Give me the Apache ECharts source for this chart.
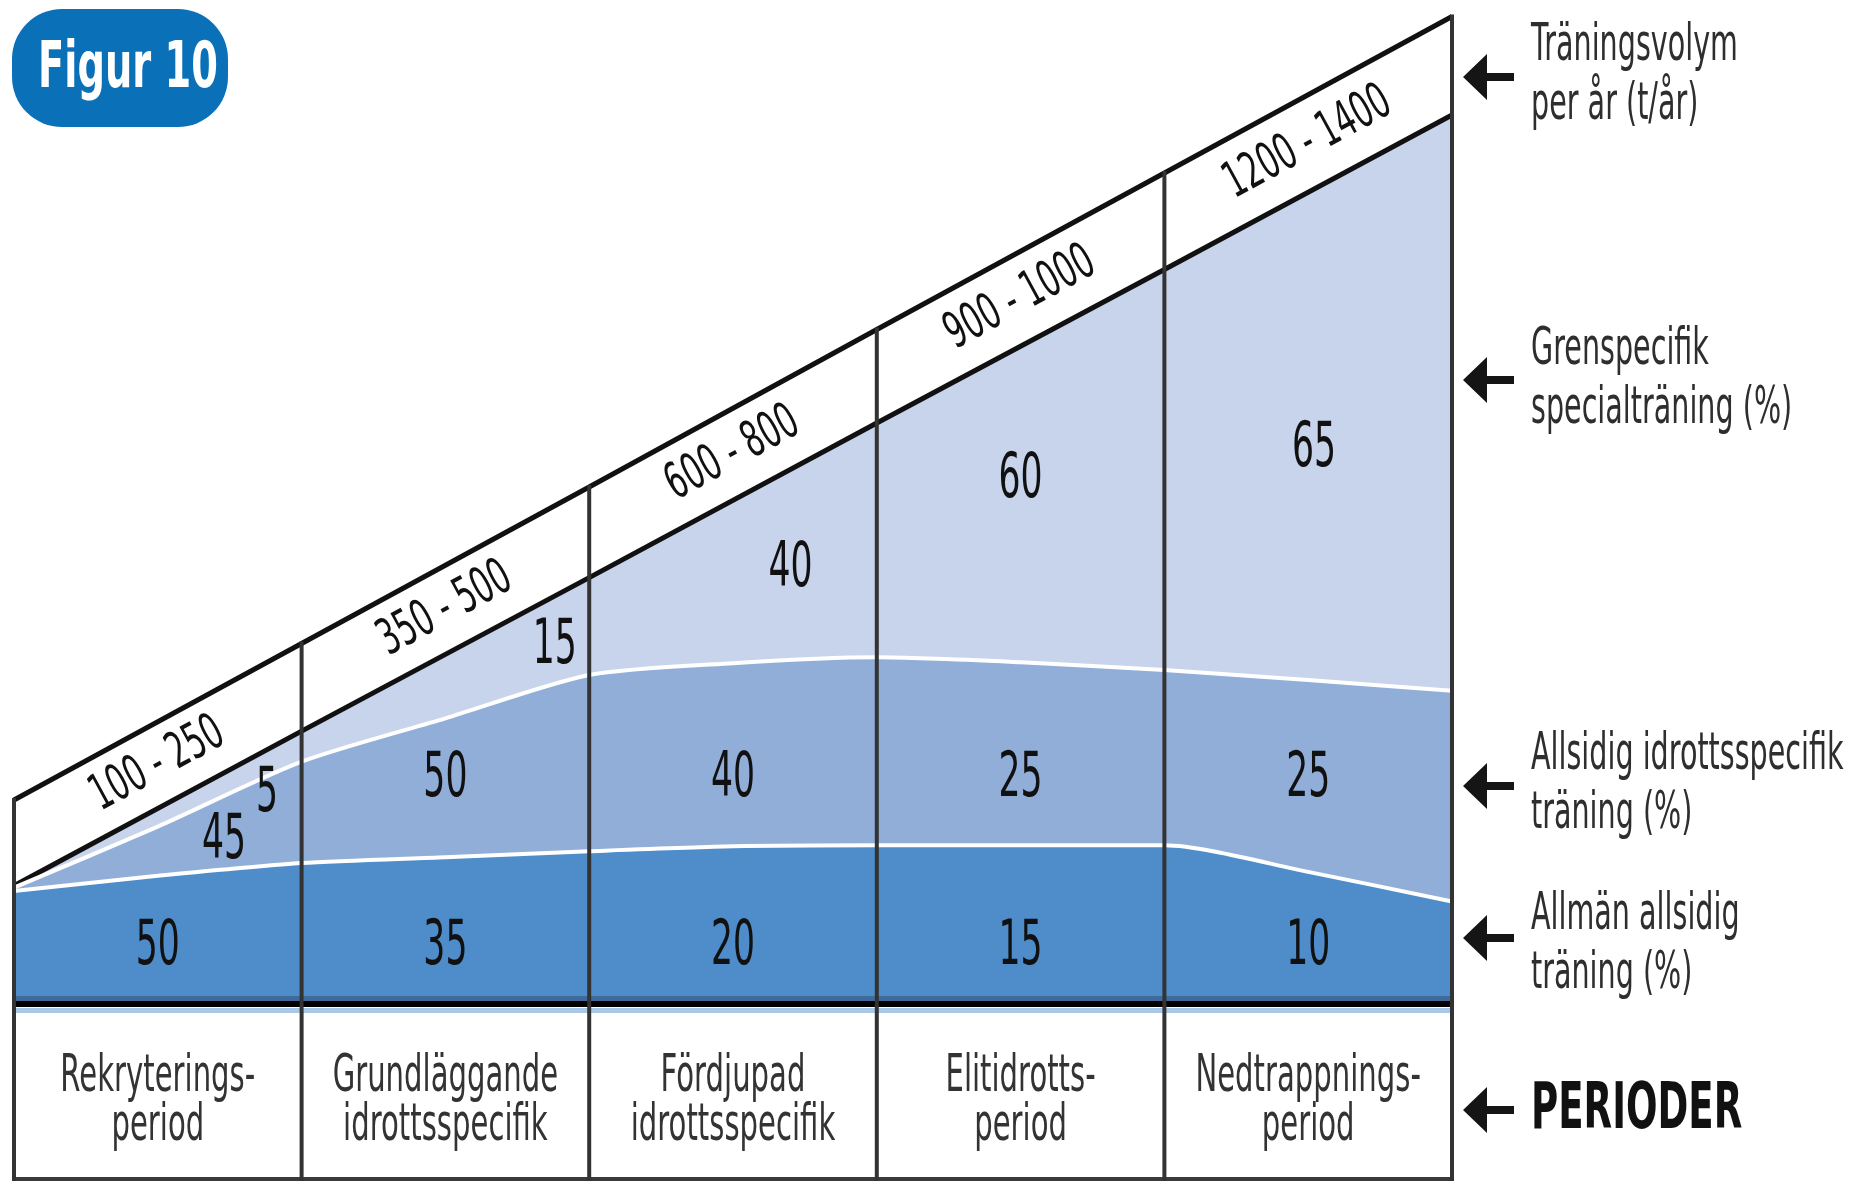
<!DOCTYPE html>
<html>
<head>
<meta charset="utf-8">
<script src="https://cdn.jsdelivr.net/npm/echarts@6/dist/echarts.min.js"></script>
<style>
  html, body { margin: 0; padding: 0; background: #fff; }
  #chart { width: 1851px; height: 1185px; }
</style>
</head>
<body>
<div id="chart"></div>
<script>
// === data: periods and percentages ===
const PERIODS = ['Rekryterings-\nperiod', 'Grundläggande\nidrottsspecifik', 'Fördjupad\nidrottsspecifik', 'Elitidrotts-\nperiod', 'Nedtrappnings-\nperiod'];
const VOLUME = ['100 - 250', '350 - 500', '600 - 800', '900 - 1000', '1200 - 1400'];
const GENERAL = [50, 35, 20, 15, 10];    // Allmän allsidig träning (%)
const ALLROUND = [45, 50, 40, 25, 25];   // Allsidig idrottsspecifik träning (%)
const SPECIFIC = [5, 15, 40, 60, 65];    // Grenspecifik specialträning (%)

// heights (0 = base, 100 = top right corner) at the period borders
const EDGE_X = [0, 1, 2, 3, 4, 5];
const VOLUME_TOP = [20.4, 36.3, 52.2, 68.2, 84.1, 100];
const VOLUME_BOTTOM = [11.7, 27.4, 43.0, 58.7, 74.3, 90.0];

// layer borders, read every half period
const CURVE_X = [0, 0.5, 1, 1.5, 2, 2.5, 3, 3.5, 4, 4.5, 5];
const GENERAL_TOP = [11.15, 12.7, 14.0, 14.6, 15.2, 15.7, 15.8, 15.8, 15.8, 13.1, 10.1];
const ALLROUND_TOP = [11.5, 17.7, 24.3, 28.7, 33.1, 34.3, 34.9, 34.4, 33.6, 32.6, 31.5];

// === layout (label spots in axis units) ===
const Y_MIN = -18.3;
const TABLE_LABEL_Y = -10.3;
const GENERAL_SPOT = [[0.5, 5.4], [1.5, 5.4], [2.5, 5.4], [3.5, 5.4], [4.5, 5.4]];
const ALLROUND_SPOT = [[0.73, 16.2], [1.5, 22.5], [2.5, 22.5], [3.5, 22.5], [4.5, 22.5]];
const SPECIFIC_SPOT = [[0.88, 21.0], [1.88, 36.0], [2.7, 43.8], [3.5, 52.8], [4.52, 56.0]];

const FONT = '"DejaVu Sans", sans-serif';
const SLOPE_DEG = 28.6;

const chart = echarts.init(document.getElementById('chart'));

function pairs(xs, ys) { return xs.map((x, i) => [x, ys[i]]); }

// text drawn through the axes, squeezed sideways like the condensed print font
function textSeries(name, items, st) {
    return {
        name: name,
        type: 'custom',
        clip: false,
        silent: true,
        z: 8,
        data: items.map(it => [it[0], it[1]]),
        renderItem: function (params, api) {
            const p = api.coord([api.value(0), api.value(1)]);
            return {
                type: 'text',
                x: p[0], y: p[1],
                scaleX: st.scaleX,
                rotation: (st.rotate || 0) * Math.PI / 180,
                style: {
                    text: String(items[params.dataIndex][2]),
                    font: st.font,
                    fill: st.color || '#111',
                    align: 'center',
                    verticalAlign: 'middle',
                    lineHeight: st.lineHeight
                }
            };
        }
    };
}

const numberStyle = { font: '63px ' + FONT, scaleX: 0.55, color: '#111' };
const withSpots = (values, spots) => values.map((v, i) => [spots[i][0], spots[i][1], v]);

// volume labels sit in the middle of the slanted band
const volumeItems = VOLUME.map((t, i) => [
    i + 0.5,
    (VOLUME_TOP[i] + VOLUME_TOP[i + 1] + VOLUME_BOTTOM[i] + VOLUME_BOTTOM[i + 1]) / 4,
    t
]);

// right-hand notes with arrows
const NOTES = [
    { text: 'Träningsvolym\nper år (t/år)', y: 76, arrow: 77 },
    { text: 'Grenspecifik\nspecialträning (%)', y: 380, arrow: 380 },
    { text: 'Allsidig idrottsspecifik\nträning (%)', y: 785, arrow: 786 },
    { text: 'Allmän allsidig\nträning (%)', y: 945, arrow: 938 },
    { text: 'PERIODER', y: 1111, arrow: 1110, bold: true }
];
const graphics = [
    { type: 'rect', shape: { x: 12, y: 9, width: 216, height: 118, r: 50 }, style: { fill: '#0a71b9' } },
    {
        type: 'text', x: 128, y: 70, scaleX: 0.6,
        style: { text: 'Figur 10', font: 'bold 64px ' + FONT, fill: '#fff', align: 'center', verticalAlign: 'middle' }
    }
];
NOTES.forEach(n => {
    const a = n.arrow;
    graphics.push({
        type: 'polygon',
        shape: { points: [[1463, a], [1487, a - 23], [1487, a - 4], [1514, a - 4], [1514, a + 4], [1487, a + 4], [1487, a + 23]] },
        style: { fill: '#151515' }
    });
    graphics.push({
        type: 'text',
        x: 1531, y: n.y,
        scaleX: n.bold ? 0.58 : 0.55,
        style: {
            text: n.text,
            fill: n.bold ? '#111' : '#2e2e2e',
            font: (n.bold ? 'bold 64px ' : '52px ') + FONT,
            lineHeight: 59,
            verticalAlign: 'middle',
            align: 'left'
        }
    });
});

const option = {
    animation: false,
    backgroundColor: '#fff',
    grid: { left: 14, right: 399, top: 16.5, bottom: 4 },
    xAxis: { type: 'value', min: 0, max: 5, show: false },
    yAxis: { type: 'value', min: Y_MIN, max: 100, show: false },
    graphic: graphics,
    series: [
        {
            name: 'Grenspecifik',
            type: 'line',
            data: pairs(EDGE_X, VOLUME_BOTTOM),
            symbol: 'none',
            lineStyle: { color: '#111', width: 5 },
            areaStyle: { color: '#c8d4ec', opacity: 1 },
            z: 2
        },
        {
            name: 'Allsidig',
            type: 'line',
            data: pairs(CURVE_X, ALLROUND_TOP),
            smooth: 0.25,
            symbol: 'none',
            lineStyle: { color: '#fff', width: 4 },
            areaStyle: { color: '#91aed9', opacity: 1 },
            z: 3
        },
        {
            name: 'Allmän',
            type: 'line',
            data: pairs(CURVE_X, GENERAL_TOP),
            smooth: 0.25,
            symbol: 'none',
            lineStyle: { color: '#fff', width: 4 },
            areaStyle: { color: '#4f8dca', opacity: 1 },
            z: 4,
            markLine: {
                silent: true,
                symbol: ['none', 'none'],
                label: { show: false },
                animation: false,
                data: [
                    { yAxis: 0.25, lineStyle: { color: '#3e6b9b', width: 5, type: 'solid' } },
                    { yAxis: -0.3, lineStyle: { color: '#000', width: 6, type: 'solid' } },
                    { yAxis: -0.95, lineStyle: { color: '#a9c8e8', width: 5, type: 'solid' } },
                    { yAxis: Y_MIN + 0.2, lineStyle: { color: '#3a3a3a', width: 4, type: 'solid' } }
                ]
            }
        },
        {
            name: 'Volym',
            type: 'line',
            data: pairs(EDGE_X, VOLUME_TOP),
            symbol: 'none',
            lineStyle: { color: '#111', width: 5 },
            z: 5
        },
        {
            name: 'Gränser',
            type: 'custom',
            clip: false,
            z: 6,
            silent: true,
            data: pairs(EDGE_X, VOLUME_TOP),
            renderItem: function (params, api) {
                const top = api.coord([api.value(0), api.value(1)]);
                const bottom = api.coord([api.value(0), Y_MIN]);
                return {
                    type: 'line',
                    shape: { x1: top[0], y1: top[1] - 2, x2: bottom[0], y2: bottom[1] },
                    style: { stroke: '#333', lineWidth: 4 }
                };
            }
        },
        textSeries('Volymetiketter', volumeItems, { font: '50px ' + FONT, scaleX: 0.6, rotate: SLOPE_DEG, color: '#111' }),
        textSeries('Allmän %', withSpots(GENERAL, GENERAL_SPOT), numberStyle),
        textSeries('Allsidig %', withSpots(ALLROUND, ALLROUND_SPOT), numberStyle),
        textSeries('Grenspecifik %', withSpots(SPECIFIC, SPECIFIC_SPOT), numberStyle),
        textSeries('Perioder', PERIODS.map((p, i) => [i + 0.5, TABLE_LABEL_Y, p]),
            { font: '52px ' + FONT, scaleX: 0.56, lineHeight: 49, color: '#333' })
    ]
};

chart.setOption(option);
</script>
</body>
</html>
